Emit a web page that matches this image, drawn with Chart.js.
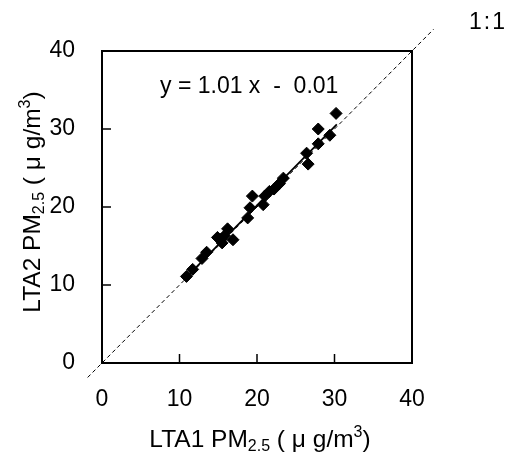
<!DOCTYPE html>
<html>
<head>
<meta charset="utf-8">
<script src="https://cdn.jsdelivr.net/npm/chart.js@4.4.1/dist/chart.umd.min.js"></script>
<style>
  body { margin: 0; background: #fff; }
  #wrap { width: 513px; height: 459px; position: relative; }
</style>
</head>
<body>
<div id="wrap"><canvas id="scatter"></canvas></div>
<script>
// data
const lta1 = [10.9, 11.7, 12.9, 13.5, 14.9, 15.4, 15.5, 15.8, 16.2, 16.9, 18.8, 19.1, 19.4, 20.8, 21.0, 21.6, 22.2, 22.9, 23.4, 26.4, 26.6, 27.9, 27.9, 29.4, 30.2];
const lta2 = [11.1, 12.0, 13.4, 14.2, 16.1, 15.9, 15.4, 16.3, 17.2, 15.8, 18.6, 19.9, 21.4, 20.3, 21.4, 22.0, 22.3, 23.0, 23.7, 26.9, 25.5, 30.0, 28.1, 29.2, 32.0];
const axisTicks = [0, 10, 20, 30, 40];

// fitted line as printed on the chart
const slope = 1.01;
const intercept = -0.01;
const fitRange = [10.9, 30.3];
const oneToOne = [-1.85, 42.8];

const points = lta1.map((x, i) => ({ x: x, y: lta2[i] }));
const fitLine = fitRange.map(x => ({ x: x, y: slope * x + intercept }));
const diagLine = oneToOne.map(v => ({ x: v, y: v }));

const FONT = "'Liberation Sans', Arial, sans-serif";
Chart.defaults.font.family = FONT;
Chart.defaults.font.size = 23;
Chart.defaults.color = '#000';

// frame, inner ticks, equation, 1:1 label and axis titles with sub/superscripts
const decorPlugin = {
  id: 'decor',
  afterDraw(chart) {
    const ctx = chart.ctx;
    const a = chart.chartArea;
    const xs = chart.scales.x, ys = chart.scales.y;
    ctx.save();
    ctx.strokeStyle = '#000';
    ctx.lineWidth = 2;
    ctx.strokeRect(a.left, a.top, a.right - a.left, a.bottom - a.top);
    ctx.lineWidth = 1.5;
    ctx.beginPath();
    axisTicks.slice(1, -1).forEach(v => {
      const px = xs.getPixelForValue(v);
      ctx.moveTo(px, a.bottom); ctx.lineTo(px, a.bottom - 9);
      const py = ys.getPixelForValue(v);
      ctx.moveTo(a.left, py); ctx.lineTo(a.left + 9, py);
    });
    ctx.stroke();

    ctx.fillStyle = '#000';
    ctx.textBaseline = 'alphabetic';
    ctx.textAlign = 'left';
    ctx.font = '23px ' + FONT;
    ctx.fillText('y = 1.01 x  -  0.01', 160, 93);
    ctx.letterSpacing = '2px';
    ctx.fillText('1:1', 469, 29);
    ctx.letterSpacing = '0px';

    function richTitle(name, cx, cy, rot) {
      const big = '24.5px ' + FONT;
      const small = '16px ' + FONT;
      const parts = [[name + ' PM', big, 0], ['2.5', small, 4], [' ( μ g/m', big, 0], ['3', small, -10], [')', big, 0]];
      let total = 0;
      parts.forEach(p => { ctx.font = p[1]; total += ctx.measureText(p[0]).width; });
      ctx.save();
      ctx.translate(cx, cy);
      if (rot) ctx.rotate(-Math.PI / 2);
      let x = -total / 2;
      parts.forEach(p => {
        ctx.font = p[1];
        ctx.fillText(p[0], x, p[2]);
        x += ctx.measureText(p[0]).width;
      });
      ctx.restore();
    }
    richTitle('LTA1', 260, 447, false);
    richTitle('LTA2', 40, 202, true);
    ctx.restore();
  }
};

new Chart(document.getElementById('scatter'), {
  type: 'scatter',
  data: {
    datasets: [
      {
        label: '1:1',
        type: 'line',
        data: diagLine,
        borderColor: '#000',
        borderWidth: 1,
        borderDash: [4, 3],
        pointRadius: 0,
        clip: false
      },
      {
        label: 'fit',
        type: 'line',
        data: fitLine,
        borderColor: '#000',
        borderWidth: 1.8,
        pointRadius: 0
      },
      {
        label: 'PM2.5',
        data: points,
        pointStyle: 'rectRot',
        pointRadius: 6,
        backgroundColor: '#000',
        borderColor: '#000',
        borderWidth: 1
      }
    ]
  },
  options: {
    responsive: true,
    maintainAspectRatio: false,
    animation: false,
    events: [],
    layout: { padding: { left: 0, right: 101, top: 51, bottom: 0 } },
    plugins: { legend: { display: false }, tooltip: { enabled: false } },
    scales: {
      x: {
        type: 'linear',
        min: 0, max: 40,
        afterFit: s => { s.height = 96; },
        afterBuildTicks: s => { s.ticks = axisTicks.map(v => ({ value: v })); },
        grid: { display: false },
        border: { display: false },
        ticks: { padding: 15, maxRotation: 0 }
      },
      y: {
        type: 'linear',
        min: 0, max: 40,
        afterFit: s => { s.width = 102; },
        afterBuildTicks: s => { s.ticks = axisTicks.map(v => ({ value: v })); },
        grid: { display: false },
        border: { display: false },
        ticks: { padding: 19 }
      }
    }
  },
  plugins: [decorPlugin]
});
</script>
</body>
</html>
